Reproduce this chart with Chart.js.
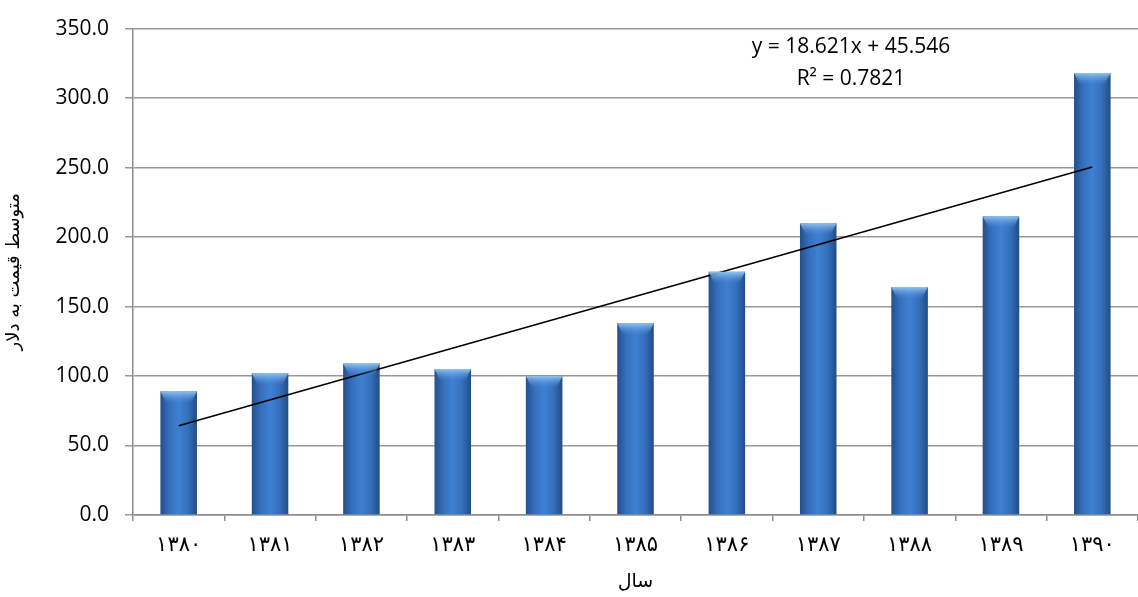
<!DOCTYPE html>
<html>
<head>
<meta charset="UTF-8">
<title>متوسط قیمت به دلار</title>
<script src="https://cdn.jsdelivr.net/npm/chart.js@4.4.1/dist/chart.umd.min.js"></script>
<style>
  html, body { margin: 0; padding: 0; background: #fff; }
  #holder { width: 1138px; height: 597px; }
</style>
</head>
<body>
<div id="holder"><canvas id="chart-area" width="1138" height="597"></canvas></div>
<script>
// data
var years = ['۱۳۸۰', '۱۳۸۱', '۱۳۸۲', '۱۳۸۳', '۱۳۸۴', '۱۳۸۵', '۱۳۸۶', '۱۳۸۷', '۱۳۸۸', '۱۳۸۹', '۱۳۹۰'];
var prices = [89, 102, 109, 105, 100, 138, 175, 210, 164, 215, 318];
// linear trendline, only its two end points (y = 18.621x + 45.546)
var trend = [64.2, null, null, null, null, null, null, null, null, null, 250.4];
var trendText = ['y = 18.621x + 45.546', 'R² = 0.7821'];
var yTitle = 'متوسط قیمت به دلار';
var xTitle = 'سال';

var barPct = 0.4;

function barFill(ctx) {
    var chart = ctx.chart;
    var xs = chart.scales.x;
    if (!xs || ctx.dataIndex === undefined) return '#3a72c0';
    var cx = xs.getPixelForValue(ctx.dataIndex);
    var w = (xs.width / years.length) * barPct;
    if (!isFinite(cx) || !isFinite(w) || w <= 0) return '#3a72c0';
    var g = chart.ctx.createLinearGradient(cx - w / 2, 0, cx + w / 2, 0);
    g.addColorStop(0, '#244f8c');
    g.addColorStop(0.25, '#3570bd');
    g.addColorStop(0.5, '#3f80d2');
    g.addColorStop(0.75, '#3470bc');
    g.addColorStop(1, '#234c86');
    return g;
}

// light bevel at the top of each bar
var bevel = {
    id: 'bevel',
    afterDatasetsDraw: function(chart) {
        var meta = chart.getDatasetMeta(1);
        var c = chart.ctx;
        meta.data.forEach(function(bar) {
            var l = bar.x - bar.width / 2, r = bar.x + bar.width / 2, t = bar.y;
            var g = c.createLinearGradient(0, t, 0, t + 12);
            g.addColorStop(0, 'rgba(150,200,245,0.95)');
            g.addColorStop(1, 'rgba(80,140,220,0)');
            c.save();
            c.fillStyle = g;
            c.beginPath();
            c.moveTo(l, t);
            c.lineTo(r, t);
            c.lineTo(r - 6, t + 12);
            c.lineTo(l + 6, t + 12);
            c.closePath();
            c.fill();
            c.restore();
        });
    }
};

var trendLabel = {
    id: 'trendLabel',
    afterDraw: function(chart) {
        var c = chart.ctx;
        c.save();
        c.fillStyle = '#000';
        c.font = '21px "Open Sans", "DejaVu Sans", sans-serif';
        c.textAlign = 'center';
        c.textBaseline = 'middle';
        c.fillText(trendText[0], 851, 47);
        c.fillText(trendText[1], 851, 79);
        c.restore();
    }
};

var config = {
    data: {
        labels: years,
        datasets: [{
            type: 'line',
            data: trend,
            spanGaps: true,
            borderColor: '#000',
            borderWidth: 1.5,
            pointRadius: 0,
            order: 0
        }, {
            type: 'bar',
            data: prices,
            backgroundColor: barFill,
            borderWidth: 0,
            barPercentage: barPct,
            categoryPercentage: 1,
            order: 1
        }]
    },
    options: {
        responsive: false,
        animation: false,
        layout: { padding: { top: 20, right: 0, left: 0, bottom: 4 } },
        plugins: { legend: { display: false }, tooltip: { enabled: false } },
        scales: {
            x: {
                offset: true,
                grid: { drawOnChartArea: false, drawTicks: true, tickLength: 6, offset: true, color: '#8c8c8c', lineWidth: 1.5 },
                border: { color: '#8c8c8c', width: 1.5 },
                ticks: { color: '#000', font: { family: '"DejaVu Sans"', size: 21 }, padding: 12 },
                title: { display: true, text: xTitle, color: '#000', font: { family: '"DejaVu Sans"', size: 19 }, padding: { top: 0, bottom: 0 } }
            },
            y: {
                min: 0,
                max: 350,
                afterFit: function(scale) { scale.width = 133; },
                ticks: {
                    stepSize: 50,
                    color: '#000',
                    font: { family: '"Open Sans"', size: 21 },
                    padding: 16,
                    callback: function(v) { return v.toFixed(1); }
                },
                grid: { color: '#999', lineWidth: 1.5, tickLength: 8 },
                border: { color: '#8c8c8c', width: 1.5 },
                title: { display: true, text: yTitle, color: '#000', font: { family: '"DejaVu Sans"', size: 18 }, padding: { top: 4, bottom: 4 } }
            }
        }
    },
    plugins: [bevel, trendLabel]
};

window.onload = function() {
    var ctx = document.getElementById('chart-area').getContext('2d');
    window.myBar = new Chart(ctx, config);
};
</script>
</body>
</html>
